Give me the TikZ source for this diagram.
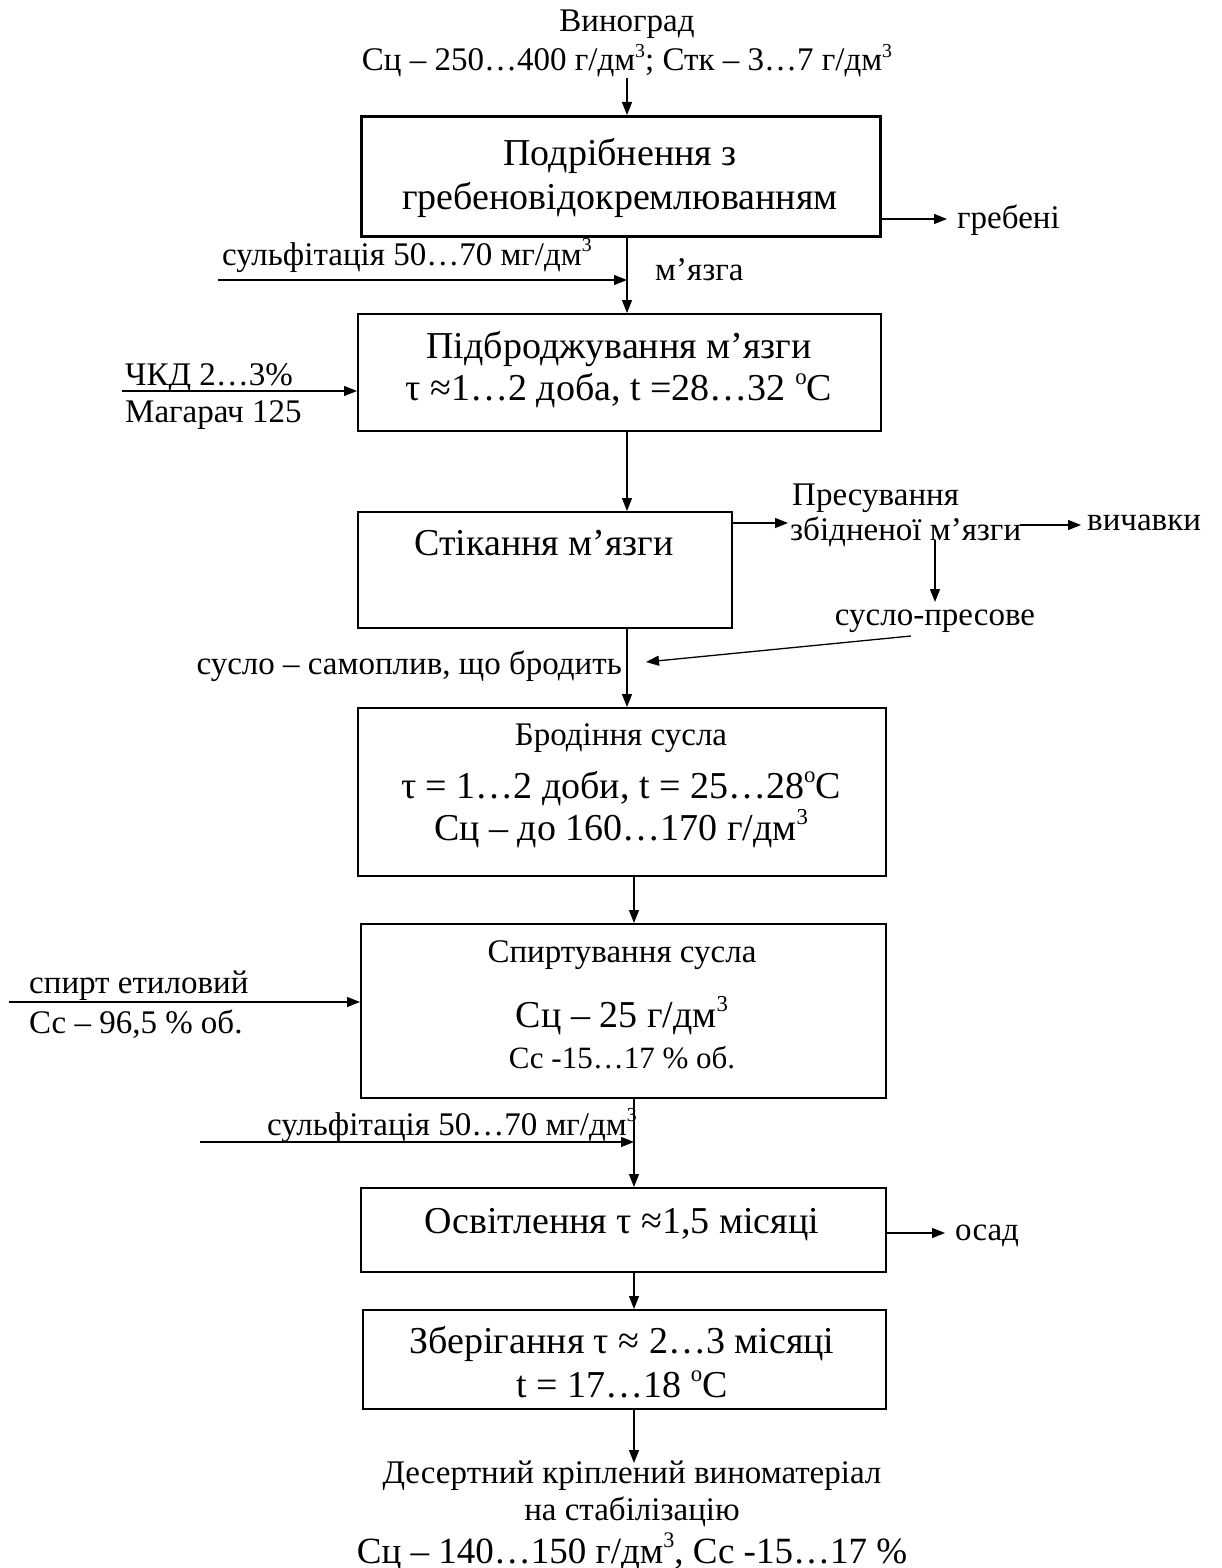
\documentclass[tikz,border=0pt]{standalone}
\usepackage{fontspec}
\setmainfont{Liberation Serif}
\usetikzlibrary{arrows.meta}
\newcommand{\sptr}{\raisebox{0.42em}{\scalebox{0.6}{3}}}
\newcommand{\degc}{\raisebox{0.42em}{\scalebox{0.6}{o}}C}
\begin{document}
\begin{tikzpicture}[x=1pt,y=-1pt,
  box/.style={draw,line width=1.5pt,inner sep=0pt,anchor=north west},
  arr/.style={line width=1.3pt,-{Triangle[length=13pt,width=10pt]}},
  lbl/.style={inner sep=0pt,anchor=base,font=\fontsize{33}{38}\selectfont},
  big/.style={inner sep=0pt,anchor=base,font=\fontsize{38}{44}\selectfont},
  mid/.style={inner sep=0pt,anchor=base,font=\fontsize{31}{36}\selectfont}]
\useasboundingbox (0,0) rectangle (1221,1568);
\coordinate (ax) at (627,0);
\coordinate (ax2) at (634,0);

% boxes
\node[box,line width=2.8pt,minimum width=519pt,minimum height=120pt] (b1) at (360,115) {};
\node[box,minimum width=523pt,minimum height=117pt] (b2) at (357,313) {};
\node[box,minimum width=374pt,minimum height=116pt] (b3) at (357,511) {};
\node[box,minimum width=528pt,minimum height=168pt] (b4) at (357,707) {};
\node[box,minimum width=525pt,minimum height=174pt] (b5) at (360,923) {};
\node[box,minimum width=525pt,minimum height=84pt] (b6) at (360,1187) {};
\node[box,minimum width=523pt,minimum height=99pt] (b7) at (362,1309) {};

% top input
\node[lbl] (t0) at (627,32) {Виноград};
\node[lbl] (t1) at (627,71) {Сц – 250…400 г/дм\sptr; Стк – 3…7 г/дм\sptr};

% box texts
\node[big] (b1a) at (620,165) {Подрібнення з};
\node[big] (b1b) at (620,209) {гребеновідокремлюванням};
\node[big] (b2a) at (619,358) {Підброджування м’язги};
\node[big] (b2b) at (619,400) {τ ≈1…2 доба, t =28…32 \degc};
\node[big] (b3a) at (544,555) {Стікання м’язги};
\node[lbl] (b4a) at (621,745) {Бродіння сусла};
\node[big] (b4b) at (621,798) {τ = 1…2 доби, t = 25…28\degc};
\node[big] (b4c) at (621,840) {Сц – до 160…170 г/дм\sptr};
\node[lbl] (b5a) at (622,962) {Спиртування сусла};
\node[big] (b5b) at (622,1027) {Сц – 25 г/дм\sptr};
\node[mid] (b5c) at (622,1068) {Сс -15…17 \% об.};
\node[big] (b6a) at (622,1233) {Освітлення τ ≈1,5 місяці};
\node[big] (b7a) at (622,1353) {Зберігання τ ≈ 2…3 місяці};
\node[big] (b7b) at (622,1397) {t = 17…18 \degc};

% side labels
\node[lbl,anchor=base west] (greb) at (957,228) {гребені};
\node[lbl,anchor=base west] (sulf1) at (222,265) {сульфітація 50…70 мг/дм\sptr};
\node[lbl,anchor=base west] (mz) at (655,280) {м’язга};
\node[lbl,anchor=base west] (chkd) at (125,385) {ЧКД 2…3\%};
\node[lbl,anchor=base west] (mag) at (125,422) {Магарач 125};
\node[lbl,anchor=base west] (pres1) at (792,505) {Пресування};
\node[lbl,anchor=base west] (pres2) at (790,540) {збідненої м’язги};
\node[lbl,anchor=base west] (vych) at (1087,530) {вичавки};
\node[lbl] (sp) at (935,625) {сусло-пресове};
\node[lbl,anchor=base east] (sam) at (622,674) {сусло – самоплив, що бродить};
\node[lbl,anchor=base west] (spirt1) at (29,993) {спирт етиловий};
\node[lbl,anchor=base west] (spirt2) at (29,1033) {Сс – 96,5 \% об.};
\node[lbl,anchor=base west] (sulf2) at (267,1135) {сульфітація 50…70 мг/дм\sptr};
\node[lbl,anchor=base west] (osad) at (955,1240) {осад};
\node[lbl] (f1) at (632,1483) {Десертний кріплений виноматеріал};
\node[lbl] (f2) at (632,1520) {на стабілізацію};
\node[big,font=\fontsize{37}{42}\selectfont] (f3) at (632,1563) {Сц – 140…150 г/дм\sptr, Сс -15…17 \%};

% free ends
\coordinate (s1) at (218,280);
\coordinate (g1) at (947,219);
\coordinate (c1) at (122,391);
\coordinate (p1) at (788,523);
\coordinate (v0) at (1020,525);
\coordinate (v1) at (1081,525);
\coordinate (d0) at (935,540);
\coordinate (d1) at (935,602);
\coordinate (e0) at (911,636);
\coordinate (e1) at (646,662);
\coordinate (spc) at (9,1002);
\coordinate (s2) at (200,1142);
\coordinate (o1) at (945,1233);
\coordinate (fend) at (634,1463);

% connectors
\draw[arr] (ax |- 0,78) -- (b1.north -| ax);
\draw[arr] (b1.east |- g1) -- (g1);
\draw[arr] (b1.south -| ax) -- (b2.north -| ax);
\draw[arr] (s1) -- (s1 -| ax);
\draw[arr] (c1) -- (c1 -| b2.west);
\draw[arr] (b2.south -| ax) -- (b3.north -| ax);
\draw[arr] (b3.east |- p1) -- (p1);
\draw[arr] (v0) -- (v1);
\draw[arr] (d0) -- (d1);
\draw[arr] (e0) -- (e1);
\draw[arr] (b3.south -| ax) -- (b4.north -| ax);
\draw[arr] (b4.south -| ax2) -- (b5.north -| ax2);
\draw[arr] (spc) -- (spc -| b5.west);
\draw[arr] (s2) -- (s2 -| ax2);
\draw[arr] (b5.south -| ax2) -- (b6.north -| ax2);
\draw[arr] (b6.east |- o1) -- (o1);
\draw[arr] (b6.south -| ax2) -- (b7.north -| ax2);
\draw[arr] (b7.south -| ax2) -- (fend);
\end{tikzpicture}
\end{document}
